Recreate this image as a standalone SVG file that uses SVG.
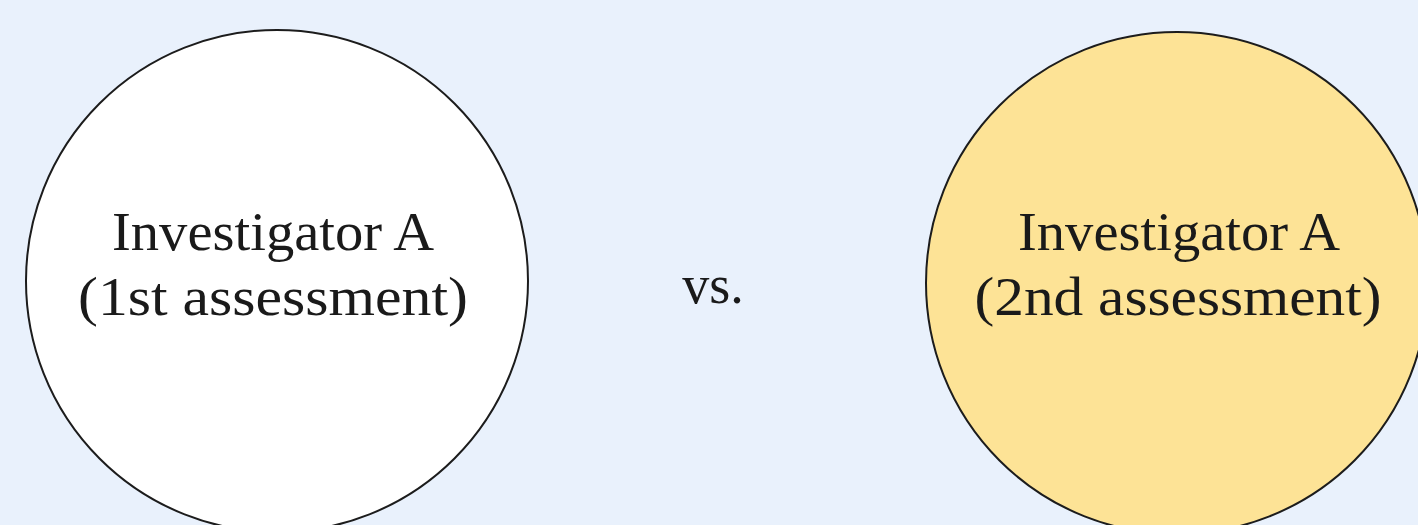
<svg xmlns="http://www.w3.org/2000/svg" width="1418" height="525" viewBox="0 0 1418 525">
<style>
.bg{fill:#e9f1fc}
.node{stroke:#1c1c1c;stroke-width:2}
.lbl{font-family:"Liberation Serif","Times New Roman",serif;font-size:54px;fill:#1a1a1a;text-anchor:middle}
</style>
<rect class="bg" x="0" y="0" width="1418" height="525"/>
<g id="node-first">
<circle class="node" cx="277" cy="281" r="251" fill="#ffffff"/>
<text class="lbl" x="273" y="250" textLength="322" lengthAdjust="spacingAndGlyphs">Investigator A</text>
<text class="lbl" x="273" y="315" textLength="390" lengthAdjust="spacingAndGlyphs">(1st assessment)</text>
</g>
<g id="node-vs">
<text class="lbl" x="713" y="303">vs.</text>
</g>
<g id="node-second">
<circle class="node" cx="1177" cy="283" r="251" fill="#fde396"/>
<text class="lbl" x="1179" y="250" textLength="322" lengthAdjust="spacingAndGlyphs">Investigator A</text>
<text class="lbl" x="1178" y="315" textLength="407" lengthAdjust="spacingAndGlyphs">(2nd assessment)</text>
</g>
<g id="connectors"></g>
</svg>
